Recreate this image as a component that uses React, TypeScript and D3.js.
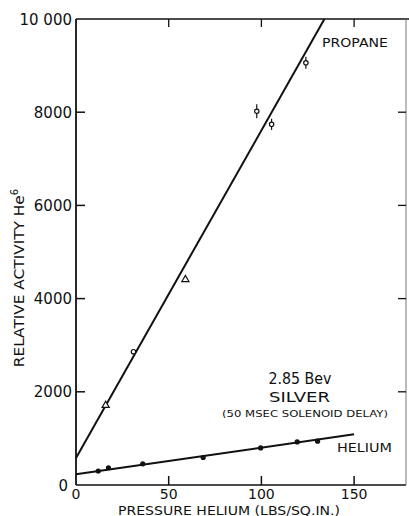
import React from "react";
import * as d3 from "d3";

const propaneX = [16, 31, 59, 97.5, 105.5, 124];
const propaneY = [1710, 2860, 4410, 8020, 7740, 9060];
const propaneMarker = ["triangle", "circle", "triangle", "circle", "circle", "circle"];
const propaneErr = [0, 0, 0, 150, 120, 130];

const heliumX = [12, 17.5, 36, 68.6, 99.6, 119.3, 130.3];
const heliumY = [300, 370, 455, 590, 795, 925, 940];

const propaneLineX = [0, 134];
const propaneLineY = [580, 10000];
const heliumLineX = [0, 150];
const heliumLineY = [230, 1088];

const yTicks = [0, 2000, 4000, 6000, 8000, 10000];
const yTickLabels = ["0", "2000", "4000", "6000", "8000", "10 000"];
const xTicks = [0, 50, 100, 150];
const xTickLabels = ["0", "50", "100", "150"];

const W = 409;
const H = 516;
const FONT = "'DejaVu Sans', sans-serif";

export default function App() {
  const x = d3.scaleLinear().domain([0, 178]).range([76, 406]);
  const y = d3.scaleLinear().domain([0, 10000]).range([485, 19]);
  const line = d3
    .line<[number, number]>()
    .x((d) => x(d[0]))
    .y((d) => y(d[1]));
  const pLine: [number, number][] = propaneLineX.map((v, i) => [v, propaneLineY[i]]);
  const hLine: [number, number][] = heliumLineX.map((v, i) => [v, heliumLineY[i]]);
  const tri = d3.symbol().type(d3.symbolTriangle).size(22)();

  return (
    <svg
      width={W}
      height={H}
      style={{ position: "absolute", left: 0, top: 0, background: "#fff" }}
      fontFamily={FONT}
    >
      <rect x={0} y={0} width={W} height={H} fill="#fff" />
      {/* frame */}
      <line x1={x(0)} x2={x(0)} y1={y(10000)} y2={y(0)} stroke="#111" strokeWidth={1.8} />
      <line x1={x(0)} x2={x(178)} y1={y(0)} y2={y(0)} stroke="#111" strokeWidth={1.6} />
      <line x1={x(0)} x2={W} y1={y(10000)} y2={y(10000)} stroke="#111" strokeWidth={1.4} />
      <line x1={x(178)} x2={x(178)} y1={y(10000)} y2={y(0)} stroke="#777" strokeWidth={1} />

      {/* y ticks */}
      {yTicks.map((t, i) => (
        <g key={"yt" + i}>
          {t > 0 && t < 10000 && (
            <>
              <line x1={x(0)} x2={x(0) + 9} y1={y(t)} y2={y(t)} stroke="#111" strokeWidth={1.5} />
              <line x1={x(178) - 8} x2={x(178)} y1={y(t)} y2={y(t)} stroke="#111" strokeWidth={1.3} />
            </>
          )}
          <text
            x={t === 0 ? 68 : 72}
            y={y(t) + 5.5}
            fontSize={15}
            textAnchor="end"
            fill="#111"
          >
            {yTickLabels[i]}
          </text>
        </g>
      ))}

      {/* x ticks */}
      {xTicks.map((t, i) => (
        <g key={"xt" + i}>
          {t > 0 && (
            <>
              <line x1={x(t)} x2={x(t)} y1={y(0)} y2={y(0) - 9} stroke="#111" strokeWidth={1.5} />
              <line x1={x(t)} x2={x(t)} y1={y(10000)} y2={y(10000) + 8} stroke="#111" strokeWidth={1.3} />
            </>
          )}
          <text x={x(t)} y={499} fontSize={14} textAnchor="middle" fill="#111">
            {xTickLabels[i]}
          </text>
        </g>
      ))}

      {/* axis titles */}
      <text
        x={229}
        y={514.5}
        fontSize={12.5}
        textAnchor="middle"
        textLength={222}
        lengthAdjust="spacingAndGlyphs"
        fill="#111"
      >
        PRESSURE HELIUM (LBS/SQ.IN.)
      </text>
      <text
        transform="translate(24,278) rotate(-90)"
        fontSize={14.5}
        textAnchor="middle"
        fill="#111"
      >
        <tspan textLength={172} lengthAdjust="spacingAndGlyphs">RELATIVE ACTIVITY He</tspan>
        <tspan dy={-6} fontSize={10}>6</tspan>
      </text>

      {/* fit lines */}
      <path d={line(pLine) || ""} fill="none" stroke="#111" strokeWidth={2} />
      <path d={line(hLine) || ""} fill="none" stroke="#111" strokeWidth={2} />

      {/* propane points */}
      {propaneX.map((v, i) => {
        const cx = x(v);
        const cy = y(propaneY[i]);
        const e = propaneErr[i];
        return (
          <g key={"p" + i}>
            {e > 0 && (
              <line x1={cx} x2={cx} y1={y(propaneY[i] + e)} y2={y(propaneY[i] - e)} stroke="#111" strokeWidth={1.2} />
            )}
            {propaneMarker[i] === "triangle" ? (
              <path d={tri || ""} transform={`translate(${cx},${cy})`} fill="#fff" stroke="#111" strokeWidth={1.2} />
            ) : (
              <circle cx={cx} cy={cy} r={2.2} fill="#fff" stroke="#111" strokeWidth={1.2} />
            )}
          </g>
        );
      })}

      {/* helium points */}
      {heliumX.map((v, i) => (
        <circle key={"h" + i} cx={x(v)} cy={y(heliumY[i])} r={2.6} fill="#111" />
      ))}

      {/* annotations */}
      <text x={322} y={47} fontSize={13} textLength={66} lengthAdjust="spacingAndGlyphs" fill="#111">
        PROPANE
      </text>
      <text x={300} y={384} fontSize={15} textAnchor="middle" textLength={63} lengthAdjust="spacingAndGlyphs" fill="#111">
        2.85 Bev
      </text>
      <text x={299.5} y={401.5} fontSize={14} textAnchor="middle" textLength={61} lengthAdjust="spacingAndGlyphs" fill="#111">
        SILVER
      </text>
      <text x={305} y={416.5} fontSize={8.5} textAnchor="middle" textLength={166} lengthAdjust="spacingAndGlyphs" fill="#111">
        (50 MSEC SOLENOID DELAY)
      </text>
      <text x={337} y={452} fontSize={13} textLength={55} lengthAdjust="spacingAndGlyphs" fill="#111">
        HELIUM
      </text>
    </svg>
  );
}
